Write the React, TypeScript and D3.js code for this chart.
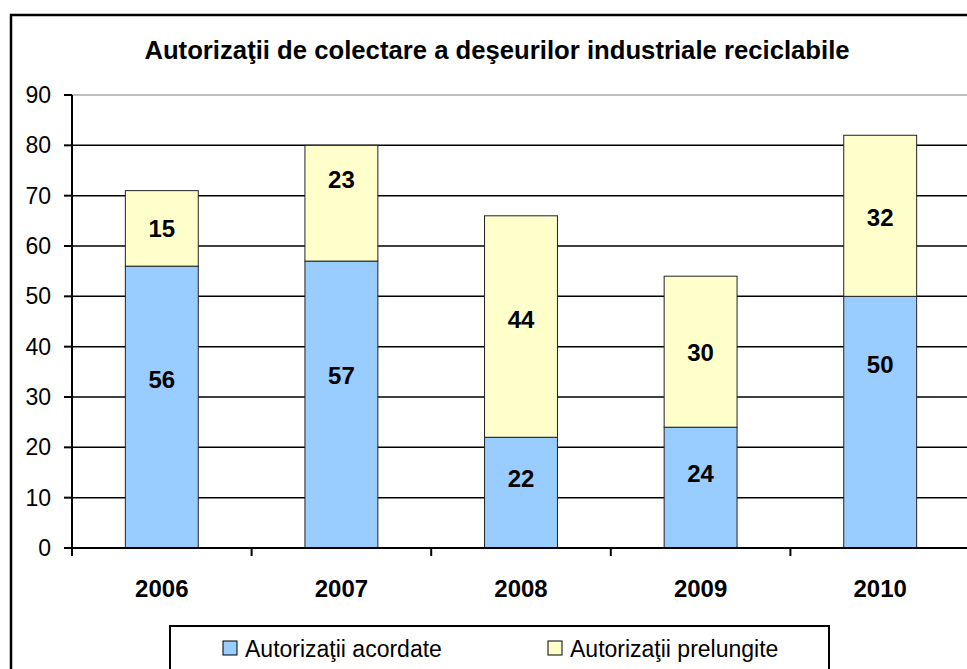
import React, {useRef, useEffect} from "react";
import {select, scaleBand, scaleLinear, range} from "d3";

const years = ["2006", "2007", "2008", "2009", "2010"];
const acordate = [56, 57, 22, 24, 50];
const prelungite = [15, 23, 44, 30, 32];
// label heights (in axis units) as they sit in the original, moved by hand there
const labelAtAcordate = [33.5, 34.2, 13.8, 14.8, 36.4];
const labelAtPrelungite = [63.5, 73.3, 45.3, 38.8, 65.6];
const yTicks = [0, 10, 20, 30, 40, 50, 60, 70, 80, 90];
const seriesNames = ["Autorizaţii acordate", "Autorizaţii prelungite"];
const seriesColors = ["#99ccff", "#ffffcc"];
const title = "Autorizaţii de colectare a deşeurilor industriale reciclabile";

export default function App() {
    const svgRef = useRef<SVGSVGElement | null>(null);

    const width = 967;
    const height = 669;
    const plotLeft = 72;
    const plotRight = 970;
    const plotTop = 95;
    const plotBottom = 548;
    const font = "Liberation Sans, Arial, sans-serif";

    useEffect(() => {
        const svg = select(svgRef.current);
        if (!svgRef.current) return;
        svg.selectAll("*").remove();

        const x = scaleBand()
            .domain(years)
            .range([plotLeft, plotRight])
            .paddingInner(0.594)
            .paddingOuter(0.297);
        const band = scaleBand().domain(years).range([plotLeft, plotRight]);
        const y = scaleLinear().domain([0, 90]).range([plotBottom, plotTop]);

        svg.append("rect")
            .attr("width", width)
            .attr("height", height)
            .attr("fill", "white");

        // outer chart border
        svg.append("rect")
            .attr("x", 11)
            .attr("y", 15)
            .attr("width", 990)
            .attr("height", 700)
            .attr("fill", "none")
            .attr("stroke", "black")
            .attr("stroke-width", 2.5);

        svg.append("text")
            .attr("x", 497)
            .attr("y", 59)
            .attr("text-anchor", "middle")
            .attr("font-family", font)
            .attr("font-weight", "bold")
            .attr("font-size", 25.7)
            .text(title);

        // plot area border (gray)
        svg.append("rect")
            .attr("x", plotLeft)
            .attr("y", plotTop)
            .attr("width", plotRight - plotLeft)
            .attr("height", plotBottom - plotTop)
            .attr("fill", "none")
            .attr("stroke", "#808080")
            .attr("stroke-width", 1);

        // gridlines
        svg.selectAll(".grid")
            .data(yTicks.filter((t) => t > 0 && t < 90))
            .join("line")
            .attr("class", "grid")
            .attr("x1", plotLeft)
            .attr("x2", plotRight)
            .attr("y1", (d) => y(d))
            .attr("y2", (d) => y(d))
            .attr("stroke", "black")
            .attr("stroke-width", 1.5);

        // stacked bars
        const stacks = years.map((yr, i) => [
            {yr, lo: 0, hi: acordate[i], v: acordate[i], s: 0, at: labelAtAcordate[i]},
            {yr, lo: acordate[i], hi: acordate[i] + prelungite[i], v: prelungite[i], s: 1, at: labelAtPrelungite[i]},
        ]).flat();

        svg.selectAll(".bar")
            .data(stacks)
            .join("rect")
            .attr("class", "bar")
            .attr("x", (d) => x(d.yr) || 0)
            .attr("width", x.bandwidth())
            .attr("y", (d) => y(d.hi))
            .attr("height", (d) => y(d.lo) - y(d.hi))
            .attr("fill", (d) => seriesColors[d.s])
            .attr("stroke", "#222")
            .attr("stroke-width", 1);

        svg.selectAll(".val")
            .data(stacks)
            .join("text")
            .attr("class", "val")
            .attr("x", (d) => (x(d.yr) || 0) + x.bandwidth() / 2)
            .attr("y", (d) => y(d.at) + 8.5)
            .attr("text-anchor", "middle")
            .attr("font-family", font)
            .attr("font-weight", "bold")
            .attr("font-size", 24)
            .text((d) => d.v);

        // y axis
        svg.append("line")
            .attr("x1", plotLeft)
            .attr("x2", plotLeft)
            .attr("y1", plotTop)
            .attr("y2", plotBottom)
            .attr("stroke", "black")
            .attr("stroke-width", 2);
        svg.selectAll(".ytick")
            .data(yTicks)
            .join("line")
            .attr("class", "ytick")
            .attr("x1", plotLeft - 8)
            .attr("x2", plotLeft)
            .attr("y1", (d) => y(d))
            .attr("y2", (d) => y(d))
            .attr("stroke", "black")
            .attr("stroke-width", 2);
        svg.selectAll(".ylab")
            .data(yTicks)
            .join("text")
            .attr("class", "ylab")
            .attr("x", 51)
            .attr("y", (d) => y(d) + 8)
            .attr("text-anchor", "end")
            .attr("font-family", font)
            .attr("font-size", 23)
            .text((d) => d);

        // x axis
        svg.append("line")
            .attr("x1", plotLeft - 8)
            .attr("x2", plotRight)
            .attr("y1", plotBottom)
            .attr("y2", plotBottom)
            .attr("stroke", "black")
            .attr("stroke-width", 2);
        svg.selectAll(".xtick")
            .data(range(years.length + 1))
            .join("line")
            .attr("class", "xtick")
            .attr("x1", (d) => plotLeft + d * band.bandwidth())
            .attr("x2", (d) => plotLeft + d * band.bandwidth())
            .attr("y1", plotBottom)
            .attr("y2", plotBottom + 8)
            .attr("stroke", "black")
            .attr("stroke-width", 2);
        svg.selectAll(".xlab")
            .data(years)
            .join("text")
            .attr("class", "xlab")
            .attr("x", (d) => (band(d) || 0) + band.bandwidth() / 2)
            .attr("y", 597)
            .attr("text-anchor", "middle")
            .attr("font-family", font)
            .attr("font-weight", "bold")
            .attr("font-size", 24)
            .text((d) => d);

        // legend
        svg.append("rect")
            .attr("x", 170)
            .attr("y", 626)
            .attr("width", 659)
            .attr("height", 60)
            .attr("fill", "white")
            .attr("stroke", "black")
            .attr("stroke-width", 2);
        const legendX = [223, 548];
        seriesNames.forEach((name, i) => {
            svg.append("rect")
                .attr("x", legendX[i])
                .attr("y", 641)
                .attr("width", 14)
                .attr("height", 14)
                .attr("fill", seriesColors[i])
                .attr("stroke", "black")
                .attr("stroke-width", 1);
            svg.append("text")
                .attr("x", legendX[i] + 22)
                .attr("y", 657)
                .attr("font-family", font)
                .attr("font-size", 23)
                .text(name);
        });
    }, []);

    return (
        <div style={{position: "fixed", left: 0, top: 0}}>
            <svg ref={svgRef} width={width} height={height}></svg>
        </div>
    );
}
